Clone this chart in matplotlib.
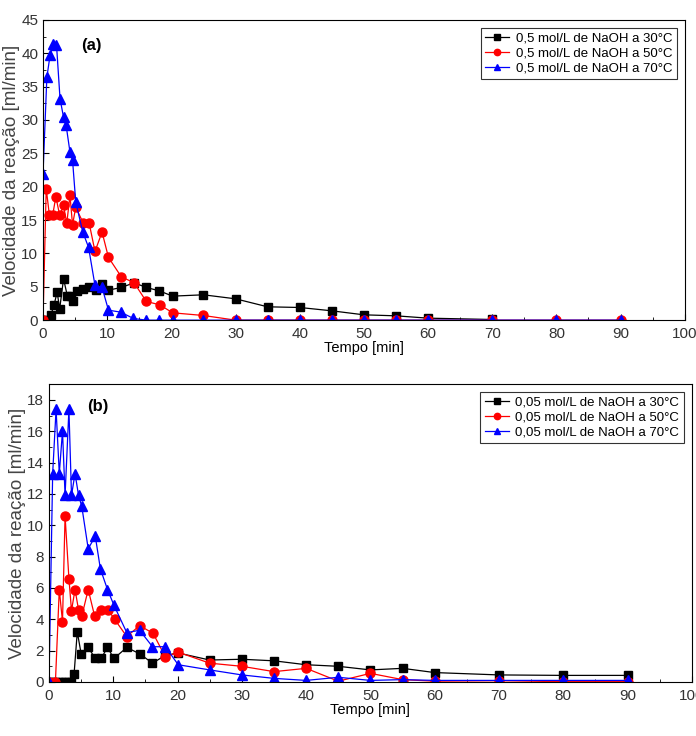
import matplotlib
matplotlib.use("Agg")
import matplotlib.pyplot as plt
from matplotlib.ticker import MultipleLocator

plt.rcParams['font.family'] = ['Liberation Sans Narrow', 'Liberation Sans', 'DejaVu Sans']

# panel (a): 0,5 mol/L
a30_t = [0, 0.5, 1.2, 1.7, 2.2, 2.6, 3.2, 3.8, 4.3, 4.7, 5.3, 6.3, 7.2, 8.3, 9.2, 10.2, 12.2, 14.2, 16.1, 18.1, 20.2, 25, 30, 35, 40, 45, 50, 55, 60, 70]
a30_v = [0, 0, 0.7, 2.2, 4.2, 1.7, 6.2, 3.6, 3.6, 2.8, 4.4, 4.6, 4.9, 4.5, 5.4, 4.5, 4.9, 5.6, 4.9, 4.4, 3.6, 3.8, 3.2, 2.0, 1.9, 1.4, 0.8, 0.65, 0.3, 0.1]
a50_t = [0, 0.5, 1.0, 1.5, 2.0, 2.6, 3.2, 3.7, 4.2, 4.6, 5.1, 6.3, 7.2, 8.1, 9.2, 10.2, 12.2, 14.2, 16.1, 18.2, 20.2, 25, 30, 35, 40, 45, 50, 55, 60, 70, 80, 90]
a50_v = [0, 19.7, 15.7, 15.7, 18.5, 15.7, 17.2, 14.5, 18.7, 14.3, 16.9, 14.5, 14.5, 10.3, 13.2, 9.4, 6.5, 5.6, 2.8, 2.3, 1.1, 0.7, 0, 0, 0, 0, 0, 0, 0, 0, 0, 0]
a70_t = [0, 0.6, 1.1, 1.6, 2.1, 2.65, 3.2, 3.6, 4.2, 4.6, 5.1, 6.2, 7.1, 8.1, 9.2, 10.2, 12.1, 14.1, 16.1, 18.0, 20.2, 25, 30, 35, 40, 45, 50, 55, 60, 70, 80, 90]
a70_v = [21.9, 36.4, 39.7, 41.4, 41.3, 33.2, 30.4, 29.2, 25.2, 24.0, 17.7, 13.2, 10.9, 5.2, 4.9, 1.5, 1.2, 0.25, 0, 0, 0, 0, 0, 0, 0, 0, 0, 0, 0, 0, 0, 0]

# panel (b): 0,05 mol/L
b30_t = [0, 0.5, 1.0, 1.5, 2.0, 2.5, 3.0, 3.5, 3.9, 4.4, 5.0, 6.1, 7.2, 8.1, 9.1, 10.1, 12.1, 14.1, 16.1, 18.1, 20.1, 25, 30, 35, 40, 45, 50, 55, 60, 70, 80, 90]
b30_v = [0, 0, 0, 0, 0, 0, 0, 0, 0.5, 3.2, 1.8, 2.2, 1.5, 1.5, 2.2, 1.5, 2.2, 1.8, 1.2, 1.7, 1.85, 1.4, 1.45, 1.35, 1.1, 1.0, 0.77, 0.87, 0.6, 0.45, 0.42, 0.42]
b50_t = [0, 1.0, 1.6, 2.1, 2.5, 3.1, 3.5, 4.05, 4.6, 5.1, 6.1, 7.1, 8.1, 9.2, 10.2, 12.1, 14.1, 16.2, 18.1, 20.1, 25, 30, 35, 40, 45, 50, 55, 60, 70, 80, 90]
b50_v = [0, 0, 5.9, 3.85, 10.6, 6.6, 4.55, 5.9, 4.6, 4.2, 5.9, 4.2, 4.6, 4.6, 4.0, 2.9, 3.6, 3.1, 1.6, 1.9, 1.2, 1.0, 0.66, 0.87, 0.05, 0.55, 0.15, 0.05, 0.08, 0.02, 0.02]
b70_t = [0, 0.57, 1.1, 1.6, 2.1, 2.5, 3.1, 3.5, 4.05, 4.6, 5.1, 6.1, 7.2, 8.0, 9.1, 10.1, 12.1, 14.1, 16.1, 18.1, 20.1, 25, 30, 35, 40, 45, 50, 55, 60, 70, 80, 90]
b70_v = [0, 13.3, 17.4, 13.3, 16.0, 11.9, 17.4, 11.9, 13.3, 11.9, 11.2, 8.5, 9.3, 7.2, 5.9, 4.9, 3.15, 3.3, 2.25, 2.25, 1.1, 0.77, 0.45, 0.23, 0.1, 0.3, 0.1, 0.15, 0.1, 0.1, 0.1, 0.1]

lab_a = ["0,5 mol/L de NaOH a 30°C", "0,5 mol/L de NaOH a 50°C", "0,5 mol/L de NaOH a 70°C"]
lab_b = ["0,05 mol/L de NaOH a 30°C", "0,05 mol/L de NaOH a 50°C", "0,05 mol/L de NaOH a 70°C"]

fig = plt.figure(figsize=(6.96, 7.36), dpi=100)
ax1 = fig.add_axes([0.0618, 0.565, 0.922, 0.408])
ax2 = fig.add_axes([0.0704, 0.0734, 0.9236, 0.4046])

styles = [dict(color='black', marker='s', ms=6),
          dict(color='red', marker='o', ms=6.5),
          dict(color='blue', marker='^', ms=7)]


def draw(ax, series, labels, ymax, ymaj, ymin, tag, tagy):
    for (t, v), st, lab in zip(series, styles, labels):
        ax.plot(t, v, lw=0.9, label=lab, **st)
    ax.set_xlim(0, 100)
    ax.set_ylim(0, ymax)
    ax.xaxis.set_major_locator(MultipleLocator(10))
    ax.xaxis.set_minor_locator(MultipleLocator(5))
    ax.yaxis.set_major_locator(MultipleLocator(ymaj))
    ax.yaxis.set_minor_locator(MultipleLocator(ymin))
    ax.tick_params(which='both', direction='in', labelsize=11, labelcolor='#333333')
    ax.tick_params(which='major', length=4)
    ax.tick_params(which='minor', length=2)
    ax.tick_params(axis='x', pad=5)
    ax.set_xlabel("Tempo [min]", fontsize=10.5, labelpad=0)
    ax.set_ylabel("Velocidade da reação [ml/min]", fontsize=13.5, color='#444444',
                  family=['Liberation Sans', 'DejaVu Sans'], labelpad=1)
    ax.text(6, tagy, tag, fontsize=12, fontweight='bold', family=['Liberation Sans', 'DejaVu Sans'])
    leg = ax.legend(loc='upper right', fontsize=9.5, frameon=True, fancybox=False,
                    edgecolor='black', handlelength=1.8, handletextpad=0.5, borderpad=0.35,
                    labelspacing=0.2, markerscale=0.7, borderaxespad=0.6)
    leg.get_frame().set_linewidth(0.8)


draw(ax1, [(a30_t, a30_v), (a50_t, a50_v), (a70_t, a70_v)], lab_a, 45, 5, 2.5, "(a)", 40.5)
draw(ax2, [(b30_t, b30_v), (b50_t, b50_v), (b70_t, b70_v)], lab_b, 19, 2, 1, "(b)", 17.3)

fig.savefig("out.png", dpi=100)
